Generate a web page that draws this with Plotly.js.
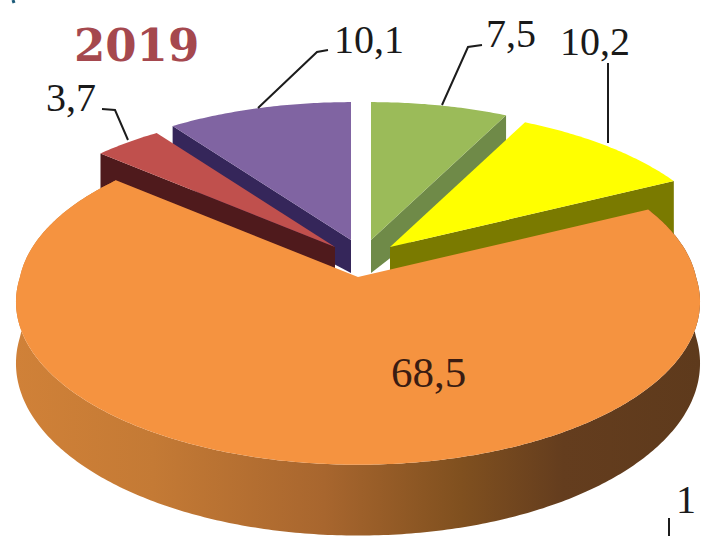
<!DOCTYPE html>
<html>
<head>
<meta charset="utf-8">
<script src="https://cdn.plot.ly/plotly-3.0.1.min.js"></script>
<style>html,body{margin:0;padding:0;background:#fff;overflow:hidden}#chart{width:701px;height:536px}</style>
</head>
<body>
<div id="chart"></div>
<script>
// Data
const sliceValues = [7.5, 10.2, 68.5, 3.7, 10.1];
const sliceLabels = ["7,5", "10,2", "68,5", "3,7", "10,1"];
const yearLabel = "2019";
const clippedLabel = "1";
const topColors = ["#9bbb59", "#ffff00", "#f59340", "#c0504d", "#8064a2"];
const sideColors = ["#6f8a48", "#7a7a00", "#a8662c", "#4f1a1c", "#35265a"];
const drawOrder = [4, 3, 0, 1, 2];

// Geometry of the tilted, exploded pie
const apexX = [371, 390, 358, 335, 351];
const apexY = [240, 247, 277, 247, 240];
const radiusX = 338, radiusY = 159, perspective = 0.153, depth = 60;
const backPerspective = [0.153, 0.153, 0.1, 0.153, 0.153];

// Label placement
const labelX = [511, 595, 428, 71, 369];
const labelY = [33, 41, 372, 97, 39];
const labelSize = [40, 40, 43, 40, 40];
const labelColor = ["#1a1a1a", "#1a1a1a", "#3a1c12", "#1a1a1a", "#1a1a1a"];
const leaderX = [[442, 468, 482], [608, 608], null, [128, 115, 102], [258, 317, 328]];
const leaderY = [[105, 47, 45], [143, 63], null, [140, 110, 109], [108, 52, 50]];

const total = sliceValues.reduce((a, b) => a + b, 0);
function project(i, deg, drop) {
  const t = deg * Math.PI / 180, u = Math.sin(t), v = -Math.cos(t);
  const w = 1 - (v < 0 ? backPerspective[i] : perspective) * v;
  return [apexX[i] + radiusX * u / w, apexY[i] + radiusY * v / w + (drop ? depth / w : 0)];
}
const starts = [];
sliceValues.reduce((acc, val, i) => { starts[i] = acc; return acc + val; }, 0);
const angle = p => p / total * 360;

function arc(i, drop) {
  const a0 = angle(starts[i]), a1 = angle(starts[i] + sliceValues[i]);
  const pts = [], n = Math.ceil((a1 - a0) * 1.5);
  for (let k = 0; k <= n; k++) pts.push(project(i, a0 + (a1 - a0) * k / n, drop));
  return pts;
}
function poly(pts, extra) {
  return Object.assign({
    x: pts.map(p => p[0]), y: pts.map(p => p[1]),
    type: "scatter", mode: "none", fill: "toself", hoverinfo: "skip", showlegend: false
  }, extra);
}

const traces = [];
drawOrder.forEach(i => {
  const top = arc(i, false), apexTop = [apexX[i], apexY[i]];
  if (i === 2) {
    const bottom = arc(i, true).reverse();
    traces.push(poly(top.concat(bottom), {
      fillcolor: sideColors[i],
      fillgradient: { type: "horizontal", colorscale: [
        [0, "#d08138"], [0.2, "#c47a35"], [0.45, "#a8662e"], [0.65, "#80501f"], [0.8, "#643d1e"], [1, "#5e3a1c"]
      ]}
    }));
  } else {
    // radial cut face that looks toward the viewer
    const useStart = i === 3 || i === 4;
    const edge = useStart ? top[0] : top[top.length - 1];
    const a = useStart ? angle(starts[i]) : angle(starts[i] + sliceValues[i]);
    const edgeLow = project(i, a, true);
    traces.push(poly([apexTop, edge, edgeLow, [apexX[i], apexY[i] + depth * 0.55], apexTop], { fillcolor: sideColors[i] }));
  }
  traces.push(poly([apexTop].concat(top, [apexTop]), { fillcolor: topColors[i] }));
});

leaderX.forEach((lx, i) => {
  if (!lx) return;
  traces.push({ x: lx, y: leaderY[i], type: "scatter", mode: "lines",
    line: { color: "#1c1c1c", width: 2 }, hoverinfo: "skip", showlegend: false });
});
// stray fragments at the picture's edges
traces.push({ x: [669, 669], y: [518, 536], type: "scatter", mode: "lines",
  line: { color: "#1c1c1c", width: 2 }, hoverinfo: "skip", showlegend: false });
traces.push({ x: [13, 14], y: [0, 3], type: "scatter", mode: "lines",
  line: { color: "#1d5c7a", width: 3 }, hoverinfo: "skip", showlegend: false });

const serif = "Liberation Serif, Times New Roman, serif";
const annotations = sliceLabels.map((t, i) => ({
  x: labelX[i], y: labelY[i], xref: "x", yref: "y", text: t, showarrow: false,
  xanchor: "center", yanchor: "middle", font: { family: serif, size: labelSize[i], color: labelColor[i] }
}));
annotations.push({ x: 136, y: 45, xref: "x", yref: "y", text: yearLabel, showarrow: false,
  xanchor: "center", yanchor: "middle", font: { family: "DejaVu Serif", size: 45, color: "#a5484e", weight: 700 } });
annotations.push({ x: 686, y: 499, xref: "x", yref: "y", text: clippedLabel, showarrow: false,
  xanchor: "center", yanchor: "middle", font: { family: serif, size: 40, color: "#1a1a1a" } });

const layout = {
  width: 701, height: 536, margin: { l: 0, r: 0, t: 0, b: 0 },
  paper_bgcolor: "#ffffff", plot_bgcolor: "#ffffff", showlegend: false,
  xaxis: { range: [0, 701], visible: false, fixedrange: true },
  yaxis: { range: [536, 0], visible: false, fixedrange: true },
  annotations: annotations
};
Plotly.newPlot("chart", traces, layout, { displayModeBar: false, staticPlot: true });
</script>
</body>
</html>
